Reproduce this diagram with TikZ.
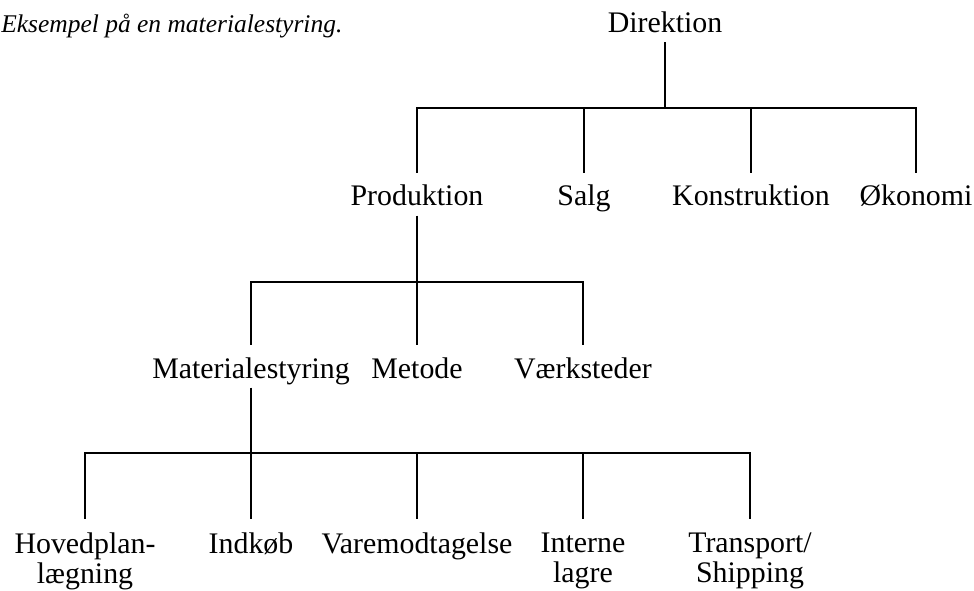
\documentclass[tikz,border=0pt]{standalone}
\usepackage{fontspec}
\setmainfont{Liberation Serif}
\tikzset{
  unit/.style={anchor=base, inner sep=0pt, text height=18.8pt, text depth=5.3pt,
               font=\fontsize{17}{17.3}\selectfont},
  leaf/.style={anchor=north, inner sep=0pt, outer ysep=7.7pt, align=center,
               font=\fontsize{17}{17.3}\selectfont},
  wire/.style={line width=1.1pt}
}
\begin{document}
\begin{tikzpicture}[x=0.02cm,y=-0.02cm]
  \useasboundingbox (0,0) rectangle (974,591);
  \node[anchor=base west, inner sep=0pt, font=\fontsize{14.5}{14.5}\selectfont\itshape]
    (title) at (1,33) {Eksempel på en materialestyring.};
  \node[unit, text depth=5.1pt] (dir) at (665,33) {Direktion};
  % 2. niveau
  \node[unit] (prod) at (417,206) {Produktion};
  \node[unit] (salg) at (584,206) {Salg};
  \node[unit] (kons) at (751,206) {Konstruktion};
  \node[unit] (oko)  at (916,206) {Økonomi};
  % 3. niveau
  \node[unit] (mat)   at (251,378) {Materialestyring};
  \node[unit] (met)   at (417,378) {Metode};
  \node[unit] (vaerk) at (583,378) {Værksteder};
  % 4. niveau
  \node[leaf] (hoved)  at (85,519)  {Hovedplan-\\lægning};
  \node[leaf] (indk)   at (251,519) {Indkøb};
  \node[leaf] (vare)   at (417,519) {Varemodtagelse};
  \node[leaf] (intern) at (583,519) {Interne\\lagre};
  \node[leaf] (transp) at (750,519) {Transport/\\Shipping};

  \coordinate (bus1) at (665,108);
  \coordinate (bus2) at (417,282);
  \coordinate (bus3) at (251,453);
  \draw[wire] (dir.south) -- (bus1);
  \foreach \n in {prod,salg,kons,oko}
    \draw[wire] (bus1) -| (\n.north);
  \draw[wire] (prod.south) -- (bus2);
  \foreach \n in {mat,met,vaerk}
    \draw[wire] (bus2) -| (\n.north);
  \draw[wire] (mat.south) -- (bus3);
  \foreach \n in {hoved,indk,vare,intern,transp}
    \draw[wire] (bus3) -| (\n.north);
\end{tikzpicture}
\end{document}
